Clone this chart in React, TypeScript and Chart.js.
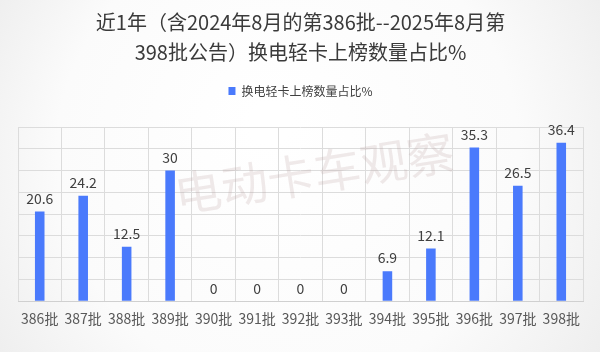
import React, { useEffect, useRef } from "react";
import { Chart, registerables } from "chart.js";

Chart.register(...registerables);

const categories = ["386批", "387批", "388批", "389批", "390批", "391批", "392批", "393批", "394批", "395批", "396批", "397批", "398批"];
const seriesName = "换电轻卡上榜数量占比%";
const values = [20.6, 24.2, 12.5, 30, 0, 0, 0, 0, 6.9, 12.1, 35.3, 26.5, 36.4];
const titleLines = ["近1年（含2024年8月的第386批--2025年8月第", "398批公告）换电轻卡上榜数量占比%"];
const watermark = "电动卡车观察";
const yMax = 40;
const yStep = 5;

const FONT = "'Noto Sans CJK SC', 'Noto Sans', sans-serif";

export default function App() {
  const ref = useRef<HTMLCanvasElement | null>(null);
  useEffect(() => {
    document.body.style.margin = "0";
    const canvas = ref.current;
    if (!canvas) return;

    const bgPlugin = {
      id: "bg",
      beforeDraw(chart: any) {
        const { ctx, width, height } = chart;
        ctx.save();
        const g = ctx.createRadialGradient(width * 0.45, height * 0.35, 20, width * 0.5, height * 0.5, width * 0.62);
        g.addColorStop(0, "#ffffff");
        g.addColorStop(0.6, "#fbfbfb");
        g.addColorStop(1, "#ececec");
        ctx.fillStyle = g;
        ctx.fillRect(0, 0, width, height);
        ctx.restore();
      },
    };

    const watermarkPlugin = {
      id: "wm",
      beforeDatasetsDraw(chart: any) {
        const { ctx, chartArea } = chart;
        ctx.save();
        ctx.translate(chartArea.left + 296, chartArea.top + 46);
        ctx.rotate((-9 * Math.PI) / 180);
        ctx.font = `47px ${FONT}`;
        ctx.fillStyle = "rgba(185, 160, 160, 0.22)";
        ctx.textAlign = "center";
        ctx.textBaseline = "middle";
        ctx.fillText(watermark, 0, 0);
        ctx.restore();
      },
    };

    const labelPlugin = {
      id: "vlabels",
      afterDatasetsDraw(chart: any) {
        const { ctx } = chart;
        const meta = chart.getDatasetMeta(0);
        ctx.save();
        ctx.font = `14px ${FONT}`;
        ctx.fillStyle = "#404040";
        ctx.textAlign = "center";
        ctx.textBaseline = "bottom";
        meta.data.forEach((bar: any, i: number) => {
          ctx.fillText(String(values[i]), bar.x, bar.y - 6);
        });
        ctx.restore();
      },
    };

    const legendSpace = {
      id: "legendSpace",
      beforeInit(chart: any) {
        const orig = chart.legend.fit;
        chart.legend.fit = function () {
          orig.call(this);
          this.height += 20;
        };
      },
    };

    const chart = new Chart(canvas, {
      type: "bar",
      data: {
        labels: categories,
        datasets: [
          {
            label: seriesName,
            data: values,
            backgroundColor: "#4A7AFC",
            borderWidth: 0,
            barPercentage: 0.44,
            categoryPercentage: 0.5,
          },
        ],
      },
      options: {
        animation: false,
        responsive: false,
        layout: { padding: { left: 18, right: 17, top: 0, bottom: 16 } },
        plugins: {
          title: {
            display: true,
            text: titleLines,
            color: "#3a3a3a",
            font: { family: FONT, size: 20, weight: "normal", lineHeight: 1.5 },
            padding: { top: 7, bottom: 8 },
          },
          legend: {
            display: true,
            labels: {
              color: "#404040",
              font: { family: FONT, size: 12 },
              boxWidth: 7,
              boxHeight: 8,
              padding: 10,
            },
          },
          tooltip: { enabled: false },
        },
        scales: {
          x: {
            grid: { color: "#dcdcdc", drawTicks: false, offset: true },
            border: { color: "#d0d0d0" },
            ticks: { color: "#595959", font: { family: FONT, size: 14 }, padding: 9 },
          },
          y: {
            min: 0,
            max: yMax,
            ticks: { display: false, stepSize: yStep },
            grid: { color: "#dcdcdc", drawTicks: false },
            border: { display: false },
            afterFit(s: any) {
              s.width = 0;
            },
          },
        },
      },
      plugins: [bgPlugin, watermarkPlugin, labelPlugin, legendSpace],
    } as any);
    return () => chart.destroy();
  }, []);
  return <canvas ref={ref} width={600} height={352} style={{ display: "block" }} />;
}
